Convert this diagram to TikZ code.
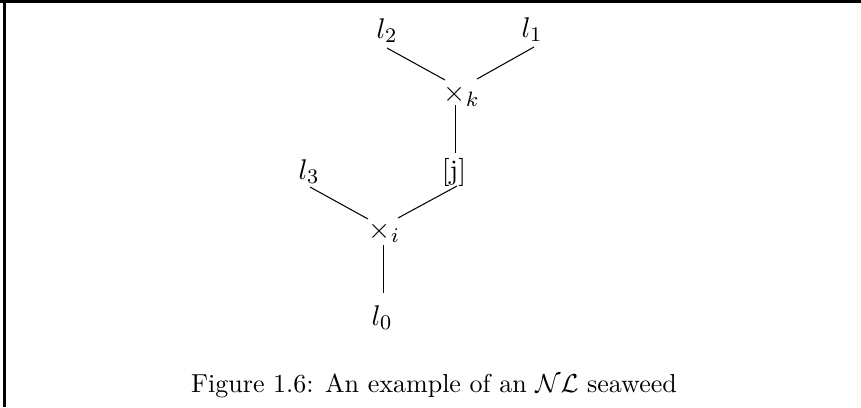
\documentclass[tikz,border=0pt]{standalone}
\usepackage{amsmath}
\begin{document}
\begin{tikzpicture}[x=0.3846pt,y=-0.3846pt,
  lbl/.style={inner sep=0pt,anchor=base,font=\fontsize{10.8}{13}\selectfont},
  capt/.style={inner sep=0pt,anchor=base},
  edge/.style={line width=0.4pt},
  frame/.style={line width=1.1pt}]
\useasboundingbox (0,0) rectangle (861,407);
% frame (top and left only)
\draw[frame] (0,1.5) -- (861,1.5);
\draw[line width=1pt] (4.5,0) -- (4.5,407);
% labels
\node[lbl] (l2) at (387,38) {$l_2$};
\node[lbl] (l1) at (532,37) {$l_1$};
\node[lbl] (xk) at (455,101.5) {$\times$\rlap{$_k$}};
\node[lbl] (j)  at (454,179.5) {[j]};
\node[lbl] (l3) at (309,179.5) {$l_3$};
\node[lbl] (xi) at (380,238.5) {$\times$\rlap{$_i$}};
\node[lbl] (l0) at (382,325) {$l_0$};
\node[capt] (cap) at (434,392) {Figure 1.6: An example of an $\mathcal{NL}$ seaweed};
% connector end points
\coordinate (l2e) at (387,48);  \coordinate (k2) at (445,80);
\coordinate (l1e) at (534,47);  \coordinate (k1) at (477,79);
\coordinate (kd) at (455.3,105);  \coordinate (ju) at (455.3,153);
\coordinate (l3e) at (310,187); \coordinate (i3) at (368,219);
\coordinate (jd) at (457,186);  \coordinate (ij) at (398,218);
\coordinate (id) at (383.5,245); \coordinate (l0e) at (383.5,293);
% connectors
\draw[edge] (l2e) -- (k2);
\draw[edge] (l1e) -- (k1);
\draw[edge] (kd) -- (ju);
\draw[edge] (l3e) -- (i3);
\draw[edge] (jd) -- (ij);
\draw[edge] (id) -- (l0e);
\end{tikzpicture}
\end{document}
